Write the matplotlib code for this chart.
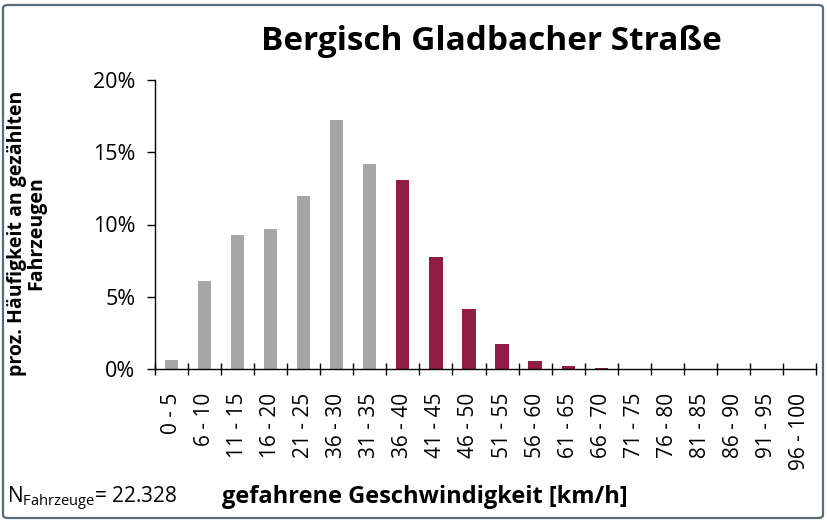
import matplotlib.pyplot as plt
import numpy as np
from matplotlib.ticker import PercentFormatter
from matplotlib.patches import FancyBboxPatch

plt.rcParams['font.family'] = ['Open Sans', 'DejaVu Sans']

# data
categories = ["0 - 5", "6 - 10", "11 - 15", "16 - 20", "21 - 25", "36 - 30", "31 - 35",
              "36 - 40", "41 - 45", "46 - 50", "51 - 55", "56 - 60", "61 - 65", "66 - 70",
              "71 - 75", "76 - 80", "81 - 85", "86 - 90", "91 - 95", "96 - 100"]
shares = [0.6, 6.1, 9.3, 9.7, 12.0, 17.2, 14.2,
          13.1, 7.75, 4.15, 1.75, 0.57, 0.23, 0.1,
          0.0, 0.0, 0.0, 0.0, 0.0, 0.0]
n_below_limit = 7  # first bars in grey

colors = ["#A6A6A6" if i < n_below_limit else "#8F1D46" for i in range(len(categories))]

fig = plt.figure(figsize=(8.27, 5.22), dpi=100)
ax = fig.add_axes([155/827, 1-369/522, (816-155)/827, (369-80)/522])

x = np.arange(len(categories))
ax.bar(x, shares, width=0.4, color=colors)

ax.set_xlim(-0.5, len(categories)-0.5)
ax.set_ylim(0, 20)
ax.set_yticks([0, 5, 10, 15, 20])
ax.yaxis.set_major_formatter(PercentFormatter(decimals=0))
ax.set_xticks(np.arange(len(categories)+1)-0.5, minor=False)
ax.set_xticklabels([])
ax.set_xticks(x, minor=True)
ax.set_xticklabels(categories, minor=True, rotation=90, fontsize=15)
ax.tick_params(axis='x', which='minor', length=0, pad=17)
ax.tick_params(axis='x', which='major', direction='inout', length=8, width=1)
ax.tick_params(axis='y', direction='out', length=6, width=1, labelsize=15.5, pad=8)

for s in ['top', 'right']:
    ax.spines[s].set_visible(False)
for s in ['left', 'bottom']:
    ax.spines[s].set_linewidth(1)

ax.set_ylabel("proz. Häufigkeit an gezählten\nFahrzeugen", fontsize=14, fontweight='bold',
              linespacing=1.0)
ax.yaxis.set_label_coords(-0.164, 0.47)

fig.text(491/827, 1-42/522, "Bergisch Gladbacher Straße", ha='center', va='center',
         fontsize=24, fontweight='bold')
fig.text(425/827, 1-497/522, "gefahrene Geschwindigkeit [km/h]", ha='center', va='center',
         fontsize=17, fontweight='bold')
fig.text(7/827, 1-499/522, r"N$_{\mathregular{Fahrzeuge}}$= 22.328", ha='left', va='center',
         fontsize=15)

# chart border
fig.patches.append(FancyBboxPatch((3/827, 4/522), 1-7/827, 1-9/522,
                                  boxstyle="round,pad=0,rounding_size=0.006",
                                  transform=fig.transFigure, fill=False,
                                  edgecolor="#5B6B78", linewidth=1.6))

fig.savefig("out.png", dpi=100)
